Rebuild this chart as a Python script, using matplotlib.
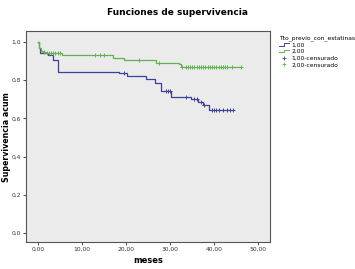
import numpy as np
import matplotlib
matplotlib.use("Agg")
import matplotlib.pyplot as plt
from matplotlib.lines import Line2D
from matplotlib.legend_handler import HandlerBase

# Kaplan-Meier steps (time of drop, survival after it)
t_blue = [0, 0.2, 0.45, 2.3, 3.5, 4.6, 18.5, 20.3, 24.6, 26.5, 28.0, 30.2, 34.8, 36.3, 37.4, 38.9]
s_blue = [1.0, 0.967, 0.94, 0.93, 0.906, 0.845, 0.836, 0.82, 0.805, 0.787, 0.745, 0.714, 0.70, 0.687, 0.67, 0.644]
end_blue = 44.3
cens_blue = [19.5, 29.0, 29.6, 30.0, 33.5, 35.5, 36.0, 37.0, 37.8, 39.5, 40.0, 40.5,
             41.0, 42.0, 43.0, 43.5, 44.3]

t_green = [0, 0.2, 0.8, 1.2, 1.8, 5.4, 17.0, 19.5, 26.8, 32.1, 32.5]
s_green = [1.0, 0.967, 0.955, 0.95, 0.94, 0.932, 0.915, 0.906, 0.888, 0.885, 0.867]
end_green = 46.1
cens_green = [1.5, 2.0, 2.5, 3.0, 3.5, 4.0, 4.5, 5.0, 13.0, 14.2, 15.0, 23.0, 27.5,
              32.8, 33.5, 34.0, 34.5, 35.0, 35.5, 36.0, 36.5, 37.0, 37.5, 38.0, 38.5,
              39.0, 39.5, 40.0, 40.5, 41.0, 41.5, 42.0, 42.5, 43.0, 44.0, 46.1]

group_labels = ["1,00", "2,00", "1,00-censurado", "2,00-censurado"]
legend_title = "Tto_previo_con_estatinas"
xticks = [0, 10, 20, 30, 40, 50]
yticks = [0.0, 0.2, 0.4, 0.6, 0.8, 1.0]

blue = "#3d4296"
green = "#62b052"


def surv_at(times, surv, x):
    i = np.searchsorted(times, x, side="right") - 1
    return np.array(surv)[i]


class StepHandler(HandlerBase):
    # draws the little step glyph SPSS puts in its legend
    def create_artists(self, legend, orig, xd, yd, w, h, fontsize, trans):
        xs = [xd, xd + w * 0.5, xd + w * 0.5, xd + w]
        ys = [yd + h * 0.2, yd + h * 0.2, yd + h * 0.8, yd + h * 0.8]
        ln = Line2D(xs, ys, color=orig.get_color(), lw=0.7, transform=trans)
        return [ln]


fig = plt.figure(figsize=(3.55, 2.69), dpi=100)
ax = fig.add_axes([0.073, 0.1, 0.688, 0.785])
ax.set_facecolor("#ebebeb")

xb = list(t_blue) + [end_blue]
yb = list(s_blue) + [s_blue[-1]]
xg = list(t_green) + [end_green]
yg = list(s_green) + [s_green[-1]]
ax.step(xb, yb, where="post", color=blue, lw=0.9)
ax.step(xg, yg, where="post", color=green, lw=0.9)
ax.plot(cens_blue, surv_at(t_blue, s_blue, cens_blue), "+", color=blue, ms=3.5, mew=0.7)
ax.plot(cens_green, surv_at(t_green, s_green, cens_green), "+", color=green, ms=3.5, mew=0.7)

ax.set_xlim(-2.7, 52.7)
ax.set_ylim(-0.047, 1.058)
ax.set_xticks(xticks)
ax.set_yticks(yticks)
ax.set_yticklabels([("%.1f" % v).replace(".", ",") for v in yticks])
ax.set_xticklabels([("%.2f" % v).replace(".", ",") for v in xticks])
ax.tick_params(labelsize=4.3, length=2.5, width=0.6, colors="#333333", pad=1.2)
for sp in ax.spines.values():
    sp.set_color("#555555")
    sp.set_linewidth(0.8)

ax.set_xlabel("meses", fontsize=6, fontweight="bold", labelpad=3)
fig.text(0.017, 0.49, "Supervivencia acum", fontsize=5.7, fontweight="bold",
         rotation=90, ha="center", va="center")
fig.text(0.5, 0.955, "Funciones de supervivencia", fontsize=6.5, fontweight="bold",
         ha="center", va="center")

h1 = Line2D([], [], color=blue)
h2 = Line2D([], [], color=green)
h3 = Line2D([], [], color=blue, marker="+", ls="none", ms=3.5, mew=0.6)
h4 = Line2D([], [], color=green, marker="+", ls="none", ms=3.5, mew=0.6)
leg = fig.legend([h1, h2, h3, h4], group_labels, title=legend_title,
                 loc="upper left", bbox_to_anchor=(0.775, 0.885), frameon=False,
                 fontsize=4.3, title_fontsize=4.3, handlelength=1.6,
                 handletextpad=0.4, labelspacing=0.25, borderpad=0.2,
                 handler_map={h1: StepHandler(), h2: StepHandler()})
leg._legend_box.align = "left"

fig.savefig("out.png", dpi=100)
